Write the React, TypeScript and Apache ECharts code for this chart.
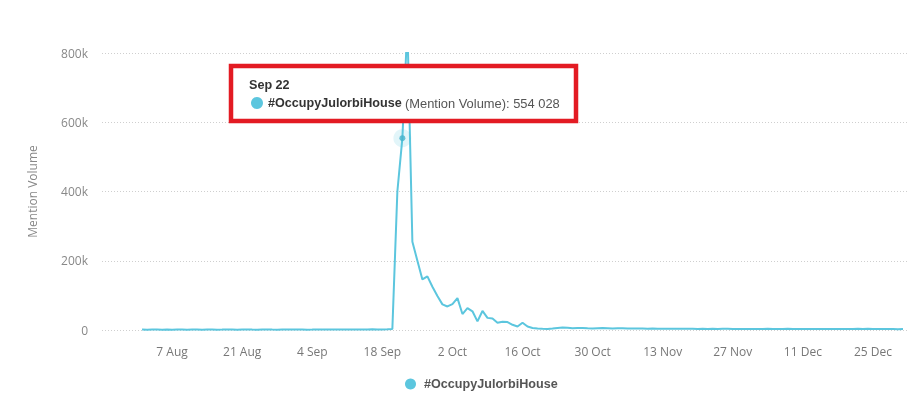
import React, { useEffect, useRef } from "react";
import * as echarts from "echarts";

const MONTHS = ["Jan", "Feb", "Mar", "Apr", "May", "Jun", "Jul", "Aug", "Sep", "Oct", "Nov", "Dec"];
const SERIES_NAME = "#OccupyJulorbiHouse";
const METRIC = "Mention Volume";

// daily values, Aug 1 .. Dec 31
const augValues = [
  1200, 900, 1400, 1100, 800, 1300, 1000, 1500, 1200, 900, 1100, 1300, 1000, 1400, 1200, 900,
  1100, 1600, 1300, 1000, 1200, 1400, 1100, 900, 1300, 1500, 1200, 1000, 1400, 1100, 1300,
];
const sepValues = [
  1200, 1500, 1000, 1300, 1700, 1400, 1100, 1600, 1300, 1200, 1500, 1800, 1400, 1200, 1600, 1900,
  1500, 1700, 2200, 3000, 400000, 554028, 880000, 255000, 200000, 146000, 155000, 125000, 98000, 74000,
];
const octValues = [
  68000, 75000, 92000, 46000, 63000, 54000, 25000, 55000, 35000, 33000, 21000, 24000, 23000, 15000, 10000, 21000,
  10000, 6000, 4500, 3500, 3000, 4000, 6000, 7500, 6500, 5000, 5500, 6000, 5000, 4500, 5000,
];
const novValues = [
  5500, 5000, 4500, 5000, 4800, 4200, 4500, 4000, 4300, 3800, 4100, 3600, 3900, 3500, 3800, 3400,
  3700, 3300, 3600, 3200, 3500, 3100, 3400, 3000, 3300, 3600, 3100, 2900, 3200, 3000,
];
const decValues = [
  2800, 3100, 2900, 3300, 3000, 2700, 3000, 3400, 3100, 2800, 3000, 2700, 2900, 3200, 2800, 2600,
  2900, 3100, 2800, 2700, 3000, 3300, 2900, 3600, 3200, 2800, 2600, 2900, 2700, 2500, 2800,
];
const values = [...augValues, ...sepValues, ...octValues, ...novValues, ...decValues];

const FIRST_DAY_OFFSET = -6; // Aug 1 relative to the axis origin (Aug 7)
const AXIS_ORIGIN = Date.UTC(2023, 7, 7);
const DAY = 86400000;
const yTicks = [0, 200000, 400000, 600000, 800000];
const highlightIndex = 31 + 21; // Sep 22

const fmtDate = (off: number) => {
  const d = new Date(AXIS_ORIGIN + off * DAY);
  return `${d.getUTCDate()} ${MONTHS[d.getUTCMonth()]}`;
};
const fmtTipDate = (off: number) => {
  const d = new Date(AXIS_ORIGIN + off * DAY);
  return `${MONTHS[d.getUTCMonth()]} ${d.getUTCDate()}`;
};
const fmtNum = (v: number) => String(v).replace(/\B(?=(\d{3})+(?!\d))/g, " ");

const COLOR = "#5cc6de";

export default function App() {
  const ref = useRef<HTMLDivElement>(null);
  useEffect(() => {
    if (!ref.current) return;
    const chart = echarts.init(ref.current, undefined, { renderer: "svg" });
    const data = values.map((v, i) => [i + FIRST_DAY_OFFSET, v]);
    const hx = highlightIndex + FIRST_DAY_OFFSET;
    const hv = values[highlightIndex];
    chart.setOption({
      animation: false,
      grid: { left: 102, right: 7, top: 53, bottom: 69 },
      xAxis: {
        type: "value",
        min: -14,
        max: 147,
        interval: 14,
        axisLine: { show: false },
        axisTick: { show: false },
        splitLine: { show: false },
        axisLabel: {
          showMinLabel: false,
          showMaxLabel: false,
          margin: 15,
          color: "#777",
          fontSize: 12,
          fontFamily: "Open Sans",
          formatter: (v: number) => fmtDate(v),
        },
      },
      yAxis: {
        type: "value",
        min: yTicks[0],
        max: yTicks[yTicks.length - 1],
        interval: 200000,
        name: METRIC,
        nameLocation: "middle",
        nameGap: 64,
        nameTextStyle: { color: "#888", fontSize: 12, fontFamily: "Open Sans" },
        axisLine: { show: false },
        axisTick: { show: false },
        splitLine: { show: true, lineStyle: { color: "#cfcfcf", type: [1, 2], width: 1 } },
        axisLabel: {
          margin: 14,
          color: "#888",
          fontSize: 12,
          fontFamily: "Open Sans",
          formatter: (v: number) => (v === 0 ? "0" : v / 1000 + "k"),
        },
      },
      legend: {
        data: [{ name: SERIES_NAME, icon: "circle" }],
        left: 405,
        top: 377.5,
        padding: 0,
        itemWidth: 11,
        itemHeight: 11,
        textStyle: {
          color: "#555",
          fontWeight: "bold",
          fontSize: 12.6,
          fontFamily: "Liberation Sans",
          padding: [0, 0, 0, 3],
        },
      },
      series: [
        {
          name: SERIES_NAME,
          type: "line",
          data,
          showSymbol: false,
          symbol: "circle",
          color: COLOR,
          lineStyle: { width: 2, color: COLOR },
          clip: true,
          z: 2,
        },
        {
          type: "scatter",
          data: [[hx, hv]],
          symbolSize: 18,
          itemStyle: { color: "rgba(92,198,222,0.22)" },
          silent: true,
          z: 3,
        },
        {
          type: "scatter",
          data: [[hx, hv]],
          symbolSize: 6,
          itemStyle: { color: "#45b3cc" },
          silent: true,
          z: 4,
        },
      ],
      graphic: [
        {
          type: "rect",
          shape: { x: 231, y: 66, width: 345, height: 55 },
          style: { fill: "#fff", stroke: "#e31b23", lineWidth: 4.5 },
          z: 100,
        },
        {
          type: "text",
          x: 249,
          y: 85,
          style: {
            text: fmtTipDate(hx),
            fontFamily: "Liberation Sans",
            fontWeight: "bold",
            fontSize: 12.6,
            fill: "#333",
            verticalAlign: "middle",
          },
          z: 101,
        },
        {
          type: "circle",
          shape: { cx: 257, cy: 103, r: 6 },
          style: { fill: COLOR },
          z: 101,
        },
        {
          type: "text",
          x: 268,
          y: 103,
          style: {
            text: `{b|${SERIES_NAME}} {n|(${METRIC}): ${fmtNum(hv)}}`,
            verticalAlign: "middle",
            rich: {
              b: { fontFamily: "Liberation Sans", fontWeight: "bold", fontSize: 12.6, fill: "#333", color: "#333" },
              n: { fontFamily: "Liberation Sans", fontSize: 12.9, fill: "#555", color: "#555" },
            },
          },
          z: 101,
        },
      ],
    });
    return () => chart.dispose();
  }, []);
  return <div ref={ref} style={{ position: "fixed", left: 0, top: 0, width: 915, height: 399 }} />;
}
